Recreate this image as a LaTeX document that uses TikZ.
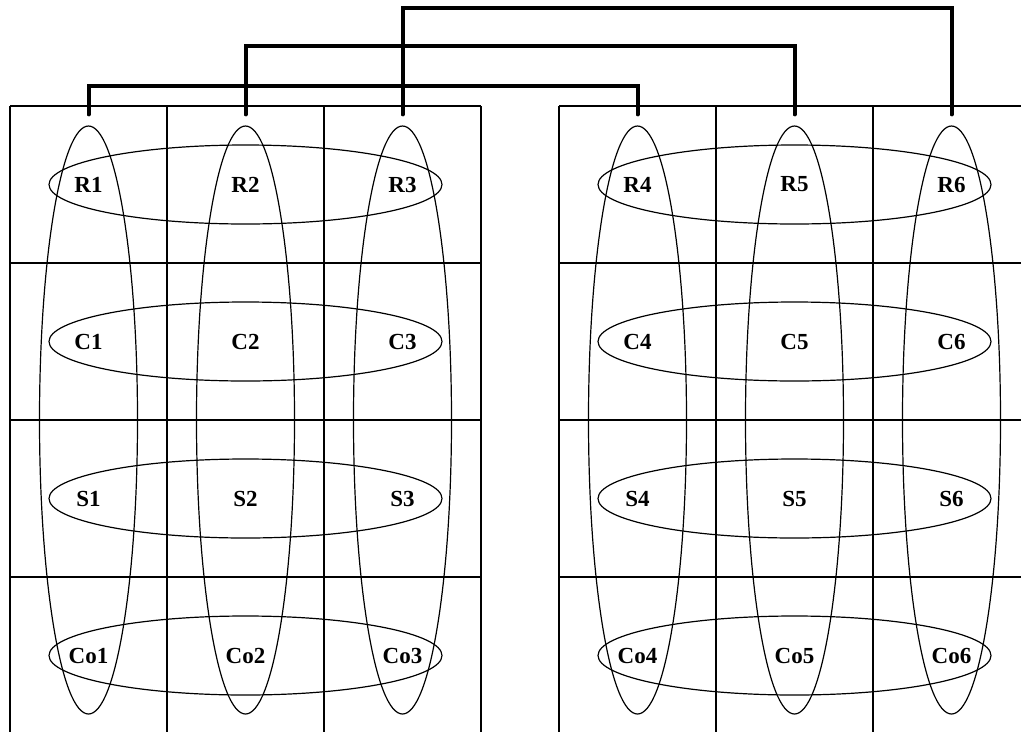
\documentclass[tikz,border=0pt]{standalone}
\usepackage{fontspec}
\setmainfont{Liberation Serif}
\usetikzlibrary{shapes.geometric}
\begin{document}
\begin{tikzpicture}[x=1pt,y=-1pt,
  gridline/.style={line width=1.3pt},
  rowring/.style={draw, ellipse, line width=1.2pt, inner sep=0pt,
                  minimum width=393pt, minimum height=79pt},
  colring/.style={draw, ellipse, line width=1.2pt, inner sep=0pt,
                  minimum width=98pt, minimum height=588pt},
  lbl/.style={font=\fontsize{23}{26}\selectfont\bfseries, inner sep=0pt},
  link/.style={line width=4pt, line cap=round, line join=miter}]
\useasboundingbox (0,0) rectangle (1021,732);

% two blocks of cells
\foreach \x in {10,167,324,481} \draw[gridline] (\x,106) -- (\x,732);
\foreach \y in {106,263,420,577} \draw[gridline] (10,\y) -- (481,\y);
\foreach \x in {559,716,873} \draw[gridline] (\x,106) -- (\x,732);
\foreach \y in {106,263,420,577} \draw[gridline] (559,\y) -- (1021,\y);

% row groupings
\foreach \p/\y in {R/184.5,C/341.5,S/498.5,Co/655.5} {
  \node[rowring] (h\p a) at (245.5,\y) {};
  \node[rowring] (h\p b) at (794.5,\y) {};
}

% column groupings
\foreach \i/\x in {1/88.5,2/245.5,3/402.5,4/637.5,5/794.5,6/951.5}
  \node[colring] (v\i) at (\x,420) {};

% labels
\foreach \i/\x in {1/88.5,2/245.5,3/402.5,4/637.5,5/794.5,6/951.5}
  \foreach \p/\y in {R/184.5,C/341.5,S/498.5,Co/655.5}
    \node[lbl] (\p\i) at (\x,\y) {\p\i};

% links between the top cells
\foreach \i in {1,...,6}
  \coordinate (t\i) at ([yshift=11pt]v\i.north);
\draw[link] (t1) -- ++(0,-28) -| (t4);
\draw[link] (t2) -- ++(0,-68) -| (t5);
\draw[link] (t3) -- ++(0,-106) -| (t6);
\end{tikzpicture}
\end{document}
